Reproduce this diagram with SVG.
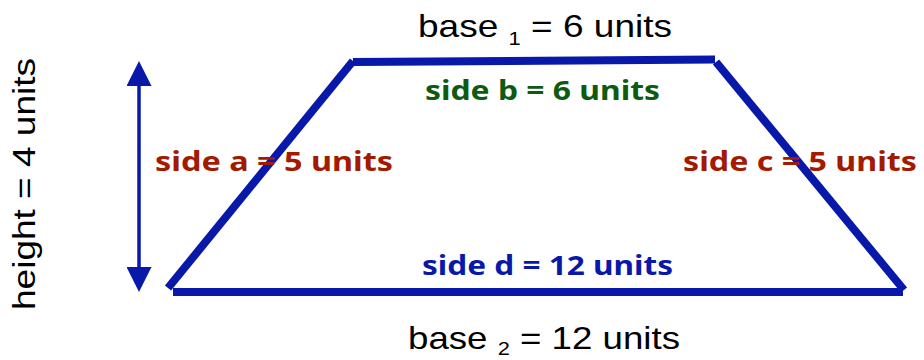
<svg xmlns="http://www.w3.org/2000/svg" width="924" height="360" viewBox="0 0 924 360">
<defs>
<style>
.edge{stroke:#0818a8;stroke-width:8;fill:none;stroke-linecap:butt}
.dim{stroke:#0818a8;stroke-width:3.5;fill:none}
.lbl{font-family:"Liberation Sans",Arial,sans-serif;font-size:32px;fill:#000}
.sub{font-size:19px}
.side{font-family:"Comic Sans MS","Noto Sans",sans-serif;font-weight:bold;font-size:26px}
.red{fill:#a31a00}
.green{fill:#0e5a0e}
.blue{fill:#0818a8}
</style>
<marker id="ah" viewBox="0 0 25 25" refX="0" refY="12.5" markerWidth="25" markerHeight="25" markerUnits="userSpaceOnUse" orient="auto-start-reverse">
<path d="M0,0 L25,12.5 L0,25 Z" fill="#0818a8"/>
</marker>
</defs>
<rect width="924" height="360" fill="#fff"/>
<g id="trapezoid">
<line class="edge" x1="353" y1="62" x2="715" y2="59.5"/>
<line class="edge" x1="716" y1="62" x2="904" y2="290"/>
<line class="edge" x1="173" y1="292" x2="903" y2="292"/>
<line class="edge" x1="168" y1="288" x2="353" y2="61"/>
</g>
<g id="connectors">
<line class="dim" x1="139" y1="86" x2="139" y2="267" marker-start="url(#ah)" marker-end="url(#ah)"/>
</g>
<g id="labels">
<text class="lbl" x="418" y="37" textLength="254" lengthAdjust="spacingAndGlyphs">base <tspan class="sub" dy="8">1</tspan><tspan dy="-8"> = 6 units</tspan></text>
<text class="lbl" x="408" y="349" textLength="272" lengthAdjust="spacingAndGlyphs">base <tspan class="sub" dy="6">2</tspan><tspan dy="-6"> = 12 units</tspan></text>
<text class="lbl" transform="translate(35,310) rotate(-90)" x="0" y="0" textLength="252" lengthAdjust="spacingAndGlyphs">height = 4 units</text>
<text class="side red" x="155" y="171" textLength="238" lengthAdjust="spacingAndGlyphs">side a = 5 units</text>
<text class="side red" x="683" y="171" textLength="234" lengthAdjust="spacingAndGlyphs">side c = 5 units</text>
<text class="side green" x="425" y="100" textLength="235" lengthAdjust="spacingAndGlyphs">side b = 6 units</text>
<text class="side blue" x="422" y="275" textLength="251" lengthAdjust="spacingAndGlyphs">side d = 12 units</text>
</g>
</svg>
